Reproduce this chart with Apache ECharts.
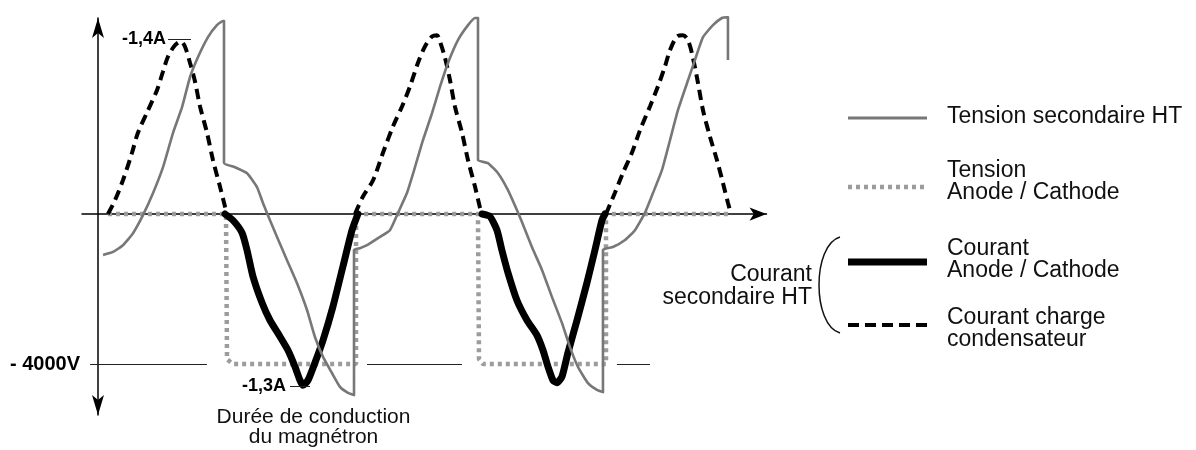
<!DOCTYPE html>
<html>
<head>
<meta charset="utf-8">
<script src="https://cdn.jsdelivr.net/npm/echarts@6/dist/echarts.min.js"></script>
<style>
html,body{margin:0;padding:0;background:#fff;}
#chart{width:1196px;height:450px;}
</style>
</head>
<body>
<div id="chart"></div>
<script>
// time in ms (one mains period = 20 ms), voltage in V, current in A
const tensionSecondaireHT = [
 [0.40,-1090],[1.19,-1010],[1.98,-830],[2.78,-510],[3.57,-30],[4.37,560],[5.16,1250],[5.95,2160],[6.67,2850],[7.30,3650],[7.94,4190],[8.73,4720],[9.44,5040],[9.92,5150],[10.00,5150],
 [10.00,1360],[10.87,1250],[11.83,1090],[12.62,720],[13.10,290],[13.41,30],[14.21,-610],[15.00,-1230],[15.79,-1840],[16.59,-2560],[17.22,-3280],[17.86,-3810],[18.57,-4240],[19.21,-4610],[19.84,-4770],[20.32,-4830],
 [20.32,-960],[20.79,-910],[21.35,-830],[22.38,-610],[23.17,-430],[23.81,30],[24.52,560],[25.16,1250],[25.79,1970],[26.51,2690],[27.14,3390],[27.78,4030],[28.57,4640],[29.37,5040],[29.92,5230],[30.16,5230],
 [30.16,1440],[30.95,1360],[31.75,1090],[32.54,640],[33.25,110],[33.65,-210],[34.44,-880],[35.24,-1490],[36.03,-2210],[36.83,-2910],[37.46,-3550],[38.10,-4080],[38.89,-4510],[39.60,-4690],[40.08,-4750],
 [40.08,-960],[40.87,-880],[41.83,-690],[42.62,-430],[43.41,30],[44.05,560],[44.76,1170],[45.40,1970],[46.03,2770],[46.75,3490],[47.38,4110],[48.02,4720],[48.81,5040],[49.52,5230],[49.92,5250],[50.00,5250],[50.00,4110]
];
const tensionAnodeCathode = [
 [0.79,0],[10.16,0],[10.24,-3870],[10.71,-4000],[20.16,-4000],[20.48,-4000],[20.48,0],
 [30.16,0],[30.24,-3870],[30.56,-4000],[40.00,-4000],[40.32,-4000],[40.32,0],[50.32,0]
];
const courantAnodeCathode = [
 [10.08,0],[10.71,-0.05],[11.43,-0.15],[11.83,-0.29],[12.30,-0.50],[13.02,-0.71],[13.65,-0.85],[14.44,-0.98],[15.08,-1.09],[15.63,-1.22],[16.03,-1.33],[16.27,-1.37],[16.67,-1.33],[17.22,-1.19],[17.86,-1.01],[18.65,-0.74],[19.44,-0.42],[20.16,-0.13],[20.63,0],
 [25,'-'],
 [30.48,0],[31.11,-0.02],[31.67,-0.13],[32.06,-0.29],[32.54,-0.47],[33.25,-0.69],[34.05,-0.85],[34.84,-0.97],[35.32,-1.09],[35.71,-1.22],[36.11,-1.33],[36.43,-1.35],[36.83,-1.30],[37.30,-1.11],[38.02,-0.85],[38.81,-0.55],[39.44,-0.29],[40.00,-0.05],[40.24,0]
];
const courantChargeCondensateur = [
 [0.79,0],[1.35,0.11],[1.98,0.27],[2.70,0.49],[3.17,0.65],[3.97,0.83],[4.68,0.99],[5.16,1.14],[5.56,1.26],[6.11,1.35],[6.59,1.38],[6.90,1.34],[7.30,1.21],[7.70,1.06],[8.10,0.86],[8.65,0.65],[9.13,0.43],[9.68,0.22],[10.08,0.06],[10.24,0],
 [15,'-'],
 [20.40,0],[21.03,0.14],[21.83,0.27],[22.62,0.49],[23.41,0.70],[24.13,0.86],[24.76,1.02],[25.40,1.21],[25.95,1.34],[26.51,1.42],[26.90,1.43],[27.14,1.38],[27.54,1.25],[27.94,1.07],[28.33,0.86],[28.89,0.65],[29.37,0.43],[29.92,0.22],[30.32,0.05],[30.48,0],
 [35,'-'],
 [40.32,0],[41.03,0.17],[41.67,0.33],[42.38,0.49],[43.02,0.67],[43.81,0.86],[44.44,1.02],[45.00,1.18],[45.40,1.31],[45.95,1.42],[46.43,1.43],[46.83,1.39],[47.22,1.25],[47.62,1.05],[48.02,0.83],[48.57,0.62],[49.13,0.43],[49.60,0.25],[50.00,0.09],[50.24,0]
];
// reference levels
const niveauTension = -4000;
const niveauSegments = [[-0.63, 8.65], [21.35, 28.89], [41.19, 43.81]];
const picCharge = 1.40;
const picChargeSeg = [5.56, 7.38];
const picAnode = -1.38;
const picAnodeSeg = [15.24, 16.83];
// texts
const labelNiveau = '- 4000V';
const labelPicCharge = '-1,4A';
const labelPicAnode = '-1,3A';
const legendNames = ['Tension secondaire HT', 'Tension\nAnode / Cathode', 'Courant\nAnode / Cathode', 'Courant charge\ncondensateur'];
const groupLabel = 'Courant\nsecondaire HT';
const noteConduction = 'Durée de conduction\ndu magnétron';

const FONT = '"Liberation Sans", Arial, Helvetica, sans-serif';
const C_TENSION = '#777777';
const C_DOTTED = '#9c9c9c';

const chart = echarts.init(document.getElementById('chart'), null, {renderer: 'canvas'});

function refLine(seg, y, label, fontSize, dist) {
  return [
    {coord: [seg[0], y], label: label ? {show: true, position: 'start', formatter: label, fontWeight: 'bold', fontSize: fontSize, color: '#000', fontFamily: FONT, distance: dist} : {show: false}},
    {coord: [seg[1], y]}
  ];
}

const markLineBase = {
  silent: true, symbol: ['none', 'none'], animation: false,
  lineStyle: {color: '#222', width: 1, type: 'solid'}
};

const legendX1 = 848, legendX2 = 927, legendTextX = 947;
const legendY = [118, 187, 262, 325];
const legendTextY = [117, 181.5, 260, 329];

const option = {
  animation: false,
  backgroundColor: '#ffffff',
  textStyle: {fontFamily: FONT},
  grid: {left: 82, right: 429.5, top: 18, bottom: 35, containLabel: false},
  xAxis: {
    type: 'value', min: -1.27, max: 53.06,
    axisLine: {show: true, onZero: true, symbol: ['none', 'arrow'], symbolSize: [10, 17], lineStyle: {color: '#000', width: 1.5}},
    axisTick: {show: false}, axisLabel: {show: false}, splitLine: {show: false}
  },
  yAxis: [
    {
      type: 'value', min: -5360, max: 5230,
      axisLine: {show: true, onZero: true, symbol: ['arrow', 'arrow'], symbolSize: [9, 20], lineStyle: {color: '#000', width: 1.5}},
      axisTick: {show: false}, axisLabel: {show: false}, splitLine: {show: false}
    },
    {
      type: 'value', min: -1.608, max: 1.568, show: false,
      axisLine: {show: false}, axisTick: {show: false}, axisLabel: {show: false}, splitLine: {show: false}
    }
  ],
  series: [
    {
      name: 'Tension Anode / Cathode', type: 'line', yAxisIndex: 0, data: tensionAnodeCathode,
      symbol: 'none', clip: false, z: 3,
      lineStyle: {color: C_DOTTED, width: 4.5, type: [4, 4]}
    },
    {
      name: 'Courant Anode / Cathode', type: 'line', yAxisIndex: 1, data: courantAnodeCathode,
      symbol: 'none', clip: false, connectNulls: false, z: 4, smooth: 0.2,
      lineStyle: {color: '#000', width: 7, cap: 'round', join: 'round'},
      markLine: Object.assign({}, markLineBase, {data: [refLine(picAnodeSeg, picAnode, labelPicAnode, 18, 4)]})
    },
    {
      name: 'Courant charge condensateur', type: 'line', yAxisIndex: 1, data: courantChargeCondensateur,
      symbol: 'none', clip: false, connectNulls: false, z: 4, smooth: 0.3,
      lineStyle: {color: '#000', width: 4, type: [10, 6]},
      markLine: Object.assign({}, markLineBase, {data: [refLine(picChargeSeg, picCharge, labelPicCharge, 18, 2)]})
    },
    {
      name: 'Tension secondaire HT', type: 'line', yAxisIndex: 0, data: tensionSecondaireHT,
      symbol: 'none', clip: false, z: 5, smooth: 0.15,
      lineStyle: {color: C_TENSION, width: 2.6, join: 'round'},
      markLine: Object.assign({}, markLineBase, {
        data: niveauSegments.map((s, i) => refLine(s, niveauTension, i === 0 ? labelNiveau : null, 20, 10))
      })
    }
  ],
  graphic: [
    // legend samples
    {type: 'line', shape: {x1: legendX1, y1: legendY[0], x2: legendX2, y2: legendY[0]}, style: {stroke: C_TENSION, lineWidth: 3}},
    {type: 'line', shape: {x1: legendX1, y1: legendY[1], x2: legendX2, y2: legendY[1]}, style: {stroke: C_DOTTED, lineWidth: 4.5, lineDash: [4, 4]}},
    {type: 'line', shape: {x1: legendX1, y1: legendY[2], x2: legendX2, y2: legendY[2]}, style: {stroke: '#000', lineWidth: 7}},
    {type: 'line', shape: {x1: legendX1, y1: legendY[3], x2: legendX2, y2: legendY[3]}, style: {stroke: '#000', lineWidth: 4, lineDash: [11, 6]}},
    // legend texts
    ...legendNames.map((t, i) => ({
      type: 'text', x: legendTextX, y: legendTextY[i],
      style: {text: t, fontSize: 23, fontFamily: FONT, fill: '#111', lineHeight: 22,
              textAlign: 'left', align: 'left', textVerticalAlign: 'middle', verticalAlign: 'middle'}
    })),
    // group label and bracket
    {type: 'text', x: 812, y: 286.5,
     style: {text: groupLabel, fontSize: 23, fontFamily: FONT, fill: '#111', lineHeight: 23,
             textAlign: 'right', align: 'right', textVerticalAlign: 'middle', verticalAlign: 'middle'}},
    {type: 'bezierCurve', shape: {x1: 840, y1: 237, cpx1: 812, cpy1: 245, cpx2: 812, cpy2: 325, x2: 840, y2: 333}, style: {stroke: '#111', lineWidth: 1.5, fill: null}},
    // note under the conduction time
    {type: 'text', x: 313.5, y: 427,
     style: {text: noteConduction, fontSize: 21, fontFamily: FONT, fill: '#111', lineHeight: 20,
             textAlign: 'center', align: 'center', textVerticalAlign: 'middle', verticalAlign: 'middle'}}
  ]
};
chart.setOption(option);
</script>
</body>
</html>
